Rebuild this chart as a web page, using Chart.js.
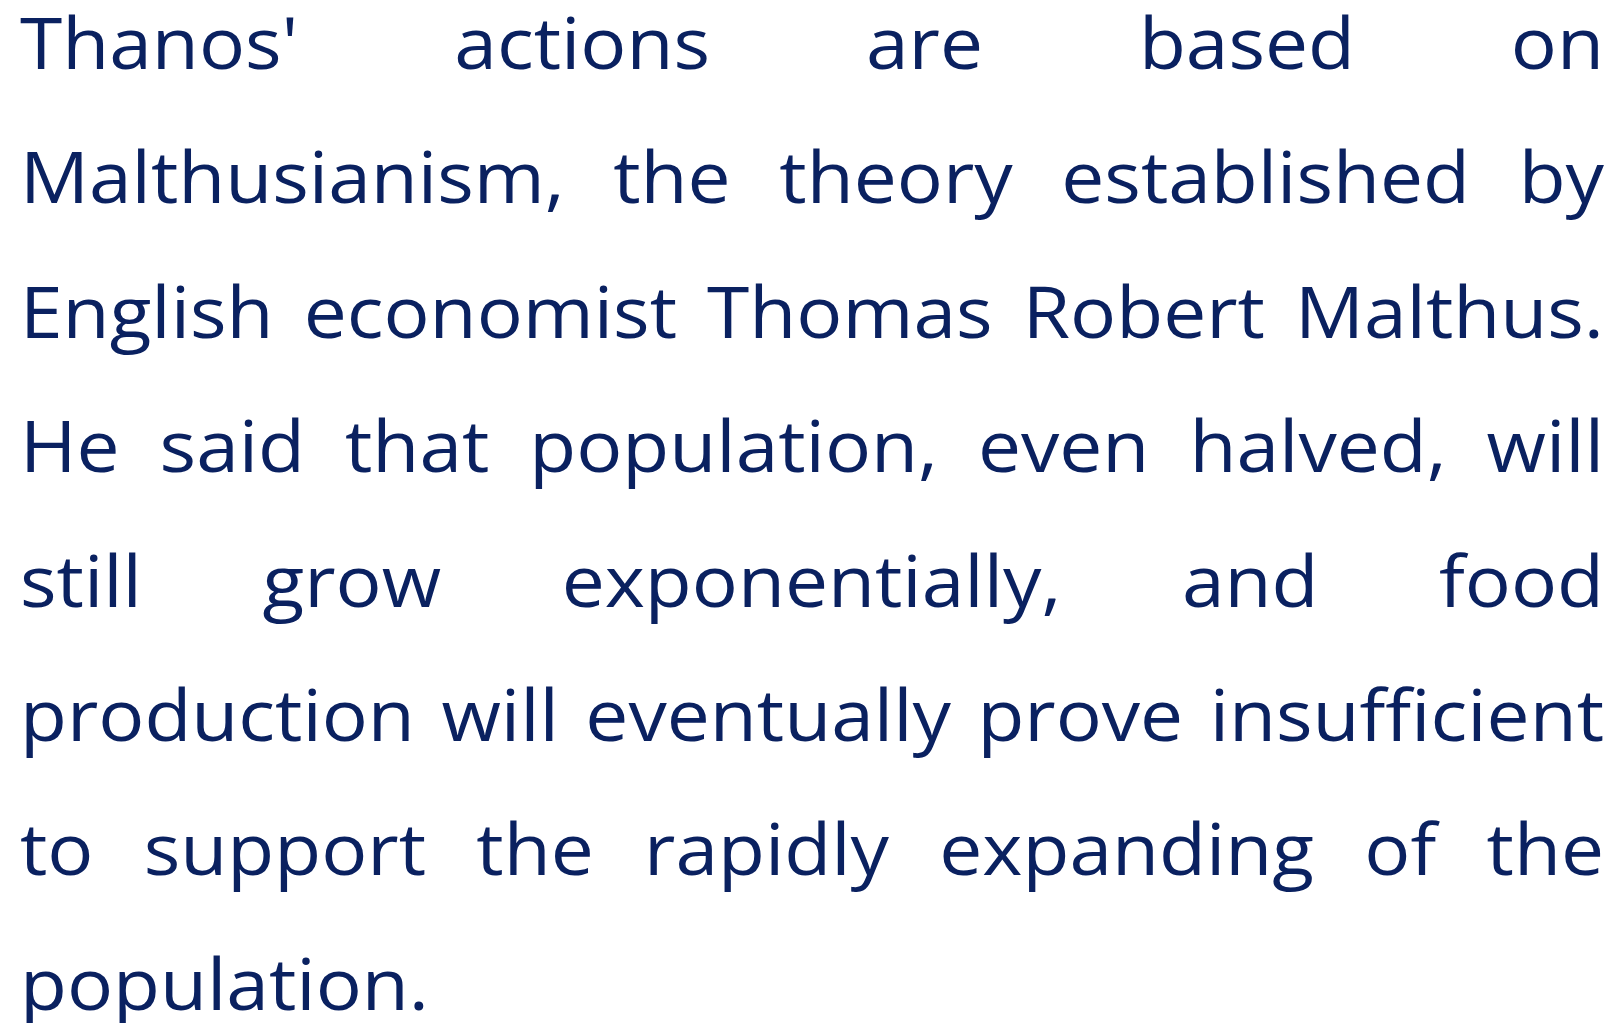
<!DOCTYPE html>
<html>
<head>
<meta charset="utf-8">
<script src="https://cdn.jsdelivr.net/npm/chart.js@4/dist/chart.umd.min.js"></script>
<style>
  html, body { margin: 0; padding: 0; background: #ffffff; }
  #wrap { position: relative; width: 1618px; height: 1023px; }
  canvas { display: block; }
</style>
</head>
<body>
<div id="wrap"><canvas id="c" width="1618" height="1023"></canvas></div>
<script>
// Text content, one entry per rendered line
const lines = [
  "Thanos' actions are based on",
  "Malthusianism, the theory established by",
  "English economist Thomas Robert Malthus.",
  "He said that population, even halved, will",
  "still grow exponentially, and food",
  "production will eventually prove insufficient",
  "to support the rapidly expanding of the",
  "population."
];
const justified = [true, true, true, true, true, true, true, false];

const textColor = '#0a2160';
const fontSpec = '72px "Open Sans", "DejaVu Sans", sans-serif';
const stretch = 1.065;

const justifiedTextPlugin = {
  id: 'justifiedText',
  afterDraw(chart) {
    const ctx = chart.ctx;
    const left = 20, right = 1604;
    const firstBaseline = 69, step = 134.4;
    ctx.save();
    ctx.fillStyle = textColor;
    ctx.font = fontSpec;
    ctx.textBaseline = 'alphabetic';
    ctx.textAlign = 'left';
    const spaceW = ctx.measureText(' ').width * stretch;
    lines.forEach((line, i) => {
      const y = firstBaseline + i * step;
      const words = line.split(' ');
      const widths = words.map(w => ctx.measureText(w).width);
      const total = widths.reduce((a, b) => a + b, 0) * stretch;
      const avail = right - left;
      let sx = stretch;
      let gap = spaceW;
      if (justified[i] && words.length > 1) {
        gap = (avail - total) / (words.length - 1);
        const minGap = spaceW * 0.9;
        if (gap < minGap) {
          sx = stretch * (avail - minGap * (words.length - 1)) / total;
          gap = minGap;
        }
      }
      let x = left;
      words.forEach((w, k) => {
        ctx.save();
        ctx.translate(x, y);
        ctx.scale(sx, 1);
        ctx.fillText(w, 0, 0);
        ctx.restore();
        x += widths[k] * sx + gap;
      });
    });
    ctx.restore();
  }
};

new Chart(document.getElementById('c'), {
  type: 'scatter',
  data: { datasets: [{ data: [] }] },
  options: {
    responsive: false,
    animation: false,
    events: [],
    plugins: { legend: { display: false }, tooltip: { enabled: false }, title: { display: false } },
    scales: { x: { display: false }, y: { display: false } },
    layout: { padding: 0 }
  },
  plugins: [justifiedTextPlugin]
});
</script>
</body>
</html>
